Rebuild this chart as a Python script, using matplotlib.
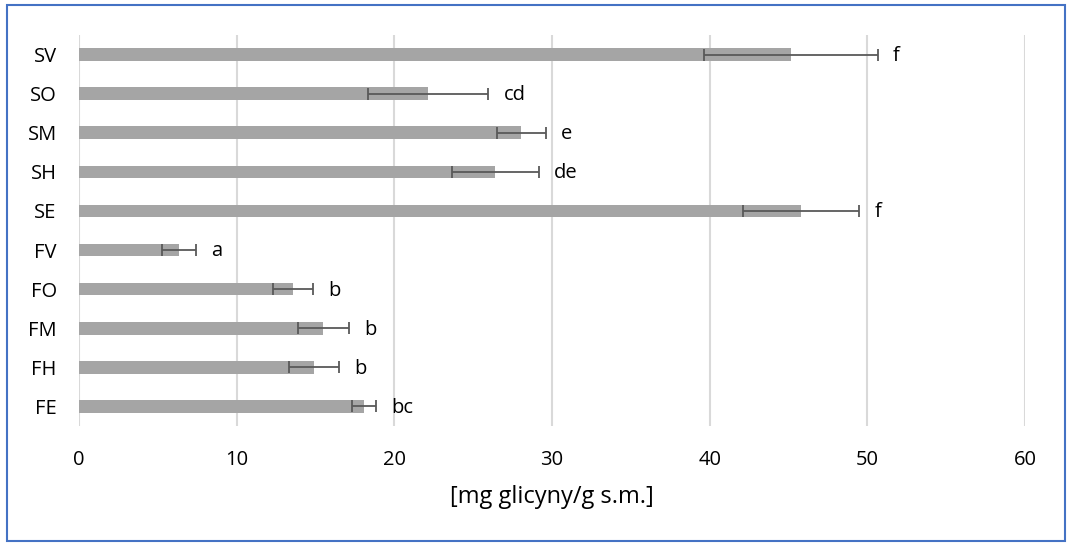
import matplotlib
matplotlib.use("Agg")
import matplotlib.pyplot as plt
from matplotlib.patches import Rectangle

plt.rcParams['font.family'] = ['Open Sans', 'DejaVu Sans']

# categories from bottom to top
samples = ['FE', 'FH', 'FM', 'FO', 'FV', 'SE', 'SH', 'SM', 'SO', 'SV']
means = [18.1, 14.9, 15.5, 13.6, 6.35, 45.8, 26.4, 28.05, 22.15, 45.15]
errors = [0.76, 1.58, 1.6, 1.27, 1.07, 3.7, 2.77, 1.55, 3.8, 5.5]
letters = ['bc', 'b', 'b', 'b', 'a', 'f', 'de', 'e', 'cd', 'f']

fig = plt.figure(figsize=(10.72, 5.44), dpi=100)
ax = fig.add_axes([0.0737, 0.2169, 0.8825, 0.7188])

ypos = list(range(len(samples)))
ax.barh(ypos, means, height=0.32, color='#A5A5A5', zorder=2)
ax.errorbar(means, ypos, xerr=errors, fmt='none', ecolor='#595959',
            elinewidth=1.3, capsize=4, capthick=1.3, zorder=3)

for y, m, e, lab in zip(ypos, means, errors, letters):
    ax.annotate(lab, xy=(m + e, y), xytext=(11, -1), textcoords='offset points',
                ha='left', va='center', fontsize=14.5, color='black')

ax.set_xlim(0, 60)
ax.set_ylim(-0.5, len(samples) - 0.5)
ax.set_xticks(range(0, 61, 10))
ax.set_yticks(ypos)
ax.set_yticklabels(samples)
ax.xaxis.grid(True, color='#D9D9D9', linewidth=1.5, zorder=0)
ax.set_axisbelow(True)
for s in ax.spines.values():
    s.set_visible(False)
ax.tick_params(axis='both', length=0, labelsize=14.5)
ax.tick_params(axis='y', pad=16)
ax.tick_params(axis='x', pad=17)
ax.set_xlabel('[mg glicyny/g s.m.]', fontsize=17, labelpad=11)

# chart border
fig.patches.append(Rectangle((0.0065, 0.006), 0.987, 0.984, transform=fig.transFigure,
                             fill=False, edgecolor='#4472C4', linewidth=1.5))

fig.savefig('out.png', dpi=100)
